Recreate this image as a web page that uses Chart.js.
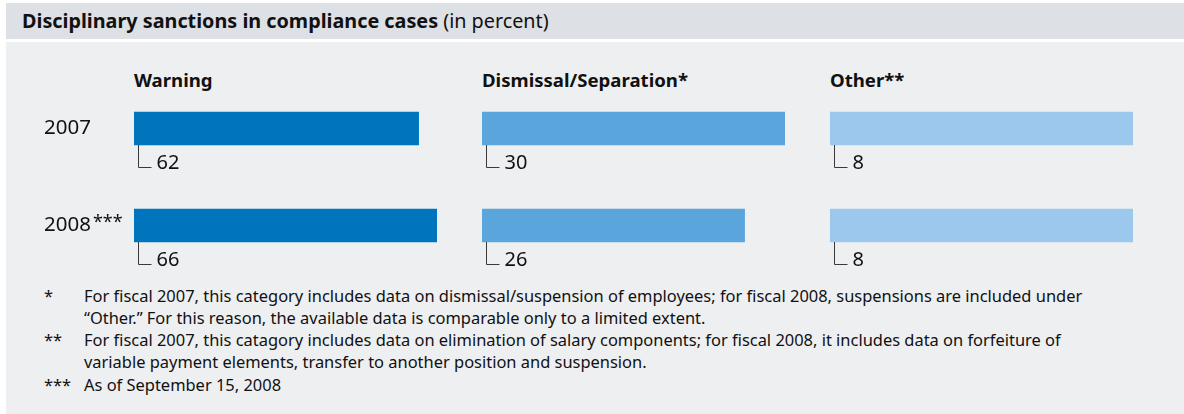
<!DOCTYPE html>
<html>
<head>
<meta charset="utf-8">
<script src="https://cdn.jsdelivr.net/npm/chart.js@4.4.0/dist/chart.umd.min.js"></script>
<style>
  html,body{margin:0;padding:0;background:#ffffff;}
  #wrap{position:relative;width:1184px;height:414px;overflow:hidden;font-family:"Noto Sans",sans-serif;color:#111;}
  #head{position:absolute;left:6px;top:3px;width:1178px;height:36px;background:#dde0e4;}
  #head span{position:absolute;left:16px;top:0;line-height:36px;font-size:19.8px;white-space:nowrap;}
  #body{position:absolute;left:6px;top:42px;width:1178px;height:372px;background:#eeeff1;}
  canvas{position:absolute;left:0;top:0;}
  .pt{position:absolute;top:70px;line-height:20px;font-size:18.6px;font-weight:bold;white-space:nowrap;}
  .fn{position:absolute;font-size:16.45px;line-height:20px;white-space:nowrap;color:#111;}
</style>
</head>
<body>
<div id="wrap">
  <div id="head"><span><b>Disciplinary sanctions in compliance cases</b> (in percent)</span></div>
  <div id="body"></div>
  <div id="titles"></div>
  <div id="notes"></div>
</div>
<script>
const years = ['2007', '2008'];
const yearMarks = ['', '***'];
const panelTitles = ['Warning', 'Dismissal/Separation*', 'Other**'];
const warning = [62, 66];
const dismissal = [30, 26];
const other = [8, 8];
const panelColors = ['#0075be', '#5aa5dc', '#9bc8ec'];
const footMarks = ['*', '', '**', '', '***'];
const footLines = [
  'For fiscal 2007, this category includes data on dismissal/suspension of employees; for fiscal 2008, suspensions are included under',
  '\u201COther.\u201D For this reason, the available data is comparable only to a limited extent.',
  'For fiscal 2007, this catagory includes data on elimination of salary components; for fiscal 2008, it includes data on forfeiture of',
  'variable payment elements, transfer to another position and suspension.',
  'As of September 15, 2008'
];

const wrap = document.getElementById('wrap');
const panels = [warning, dismissal, other];
const panelLeft = [134, 482, 830];
const panelWidth = 303;
const W = 1184, H = 414;

panelTitles.forEach((t, i) => {
  const d = document.createElement('div');
  d.className = 'pt';
  d.style.left = panelLeft[i] + 'px';
  d.textContent = t;
  wrap.appendChild(d);
});
footLines.forEach((t, i) => {
  const top = 295.5 + i * 22.3 - 10;
  const m = document.createElement('div');
  m.className = 'fn';
  m.style.left = '44px'; m.style.top = top + 'px';
  m.textContent = footMarks[i];
  wrap.appendChild(m);
  const d = document.createElement('div');
  d.className = 'fn';
  d.style.left = '84px'; d.style.top = top + 'px';
  d.textContent = t;
  wrap.appendChild(d);
});

const labelPlugin = {
  id: 'leaders',
  afterDatasetsDraw(chart, args, opts) {
    const ctx = chart.ctx;
    const meta = chart.getDatasetMeta(0);
    const vals = chart.data.datasets[0].data;
    ctx.save();
    meta.data.forEach((bar, i) => {
      const p = bar.getProps(['x', 'y', 'base', 'height'], true);
      const bottom = p.y + p.height / 2;
      const lx = p.base + 4.5;
      ctx.strokeStyle = '#3a3a3a';
      ctx.lineWidth = 1;
      ctx.beginPath();
      ctx.moveTo(lx, bottom);
      ctx.lineTo(lx, bottom + 22.5);
      ctx.lineTo(lx + 13, bottom + 22.5);
      ctx.stroke();
      ctx.fillStyle = '#111';
      ctx.font = '20px "Noto Sans"';
      ctx.textBaseline = 'alphabetic';
      ctx.textAlign = 'left';
      ctx.fillText(String(vals[i]), lx + 18, bottom + 24);
    });
    if (opts.showYears) {
      const ys = chart.scales.y;
      chart.data.labels.forEach((lab, i) => {
        const y = ys.getPixelForValue(i);
        ctx.fillStyle = '#111';
        ctx.font = '20.5px "Noto Sans"';
        ctx.textBaseline = 'middle';
        ctx.textAlign = 'left';
        ctx.fillText(lab, 44, y);
        if (yearMarks[i]) {
          const w = ctx.measureText(lab).width;
          ctx.font = '18px "Noto Sans"';
          ctx.fillText(yearMarks[i], 44 + w + 2, y - 3);
        }
      });
    }
    ctx.restore();
  }
};

panels.forEach((vals, i) => {
  const c = document.createElement('canvas');
  c.width = W; c.height = H;
  c.style.width = W + 'px'; c.style.height = H + 'px';
  wrap.appendChild(c);
  new Chart(c, {
    type: 'bar',
    data: {
      labels: years,
      datasets: [{
        data: vals,
        backgroundColor: panelColors[i],
        borderWidth: 0,
        barThickness: 33
      }]
    },
    options: {
      indexAxis: 'y',
      responsive: false,
      animation: false,
      layout: {
        padding: {
          left: panelLeft[i],
          right: W - panelLeft[i] - panelWidth,
          top: 80,
          bottom: H - 274
        }
      },
      scales: {
        x: { display: false, min: 0, max: Math.max(...vals) },
        y: { display: false }
      },
      plugins: {
        legend: { display: false },
        tooltip: { enabled: false },
        leaders: { showYears: i === 0 }
      }
    },
    plugins: [labelPlugin]
  });
});
</script>
</body>
</html>
